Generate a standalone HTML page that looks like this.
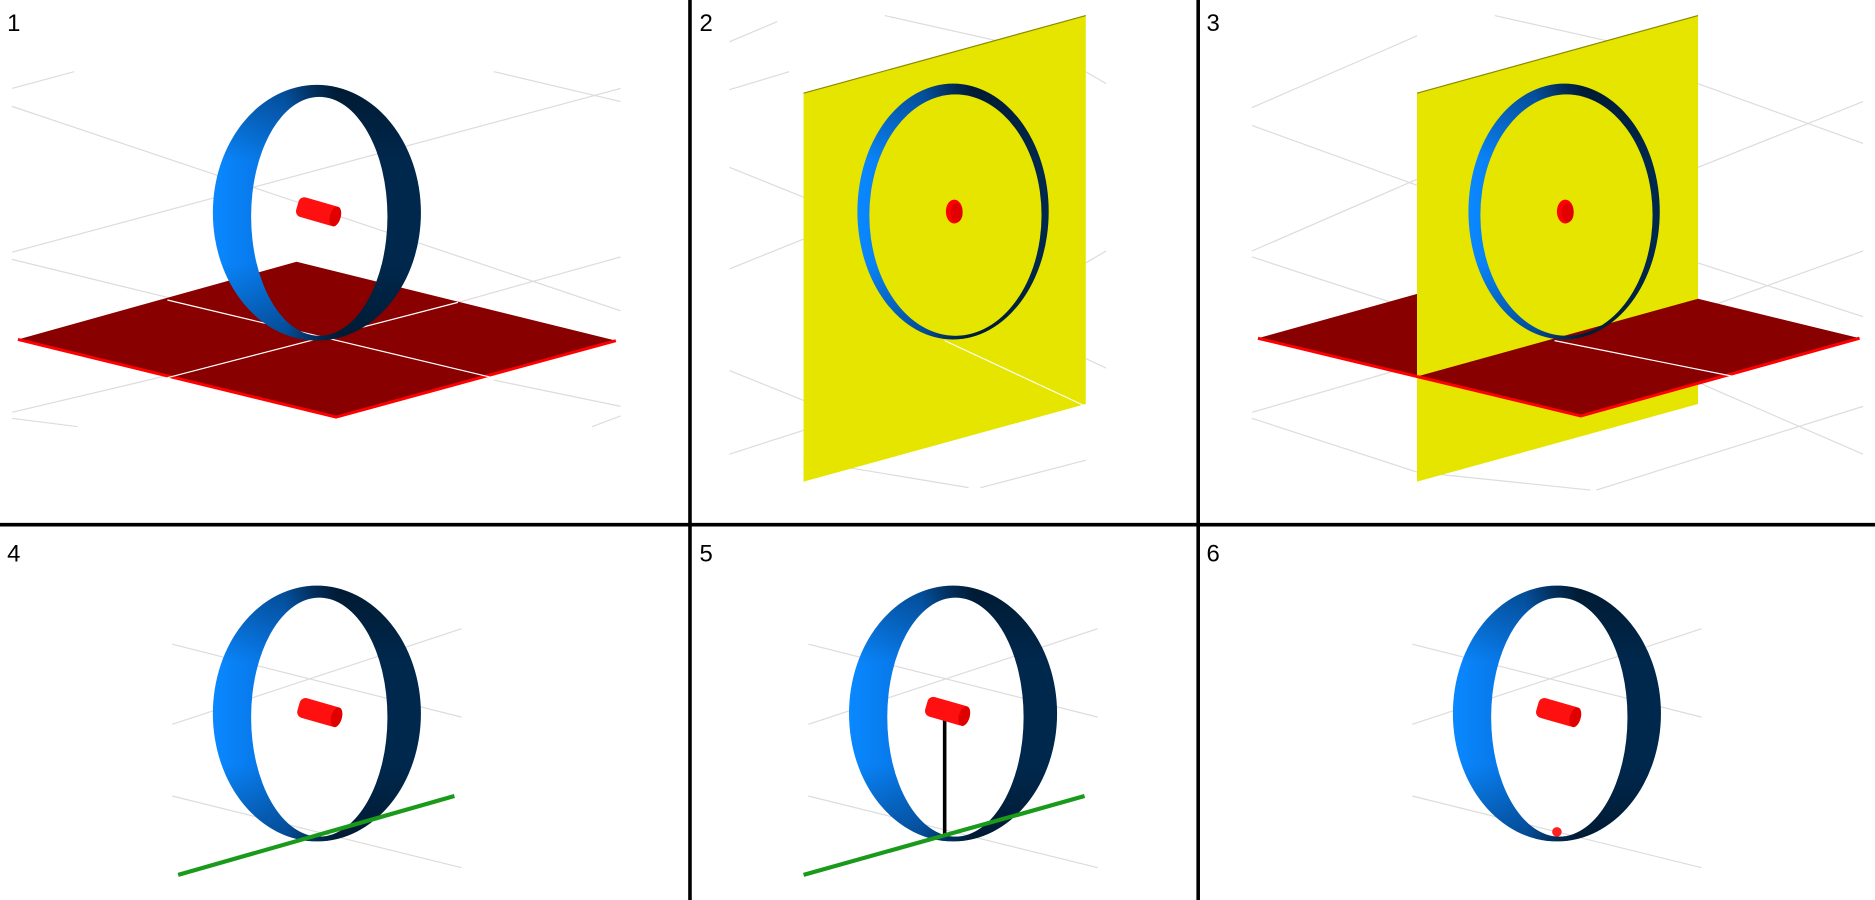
<!DOCTYPE html>
<html><head><meta charset="utf-8"><style>
html,body{margin:0;padding:0;background:#fff;}
svg{display:block;}
text{font-family:"Liberation Sans",sans-serif;}
</style></head><body>
<svg id="s" width="1875" height="900" viewBox="0 0 1568 753" preserveAspectRatio="none" xmlns="http://www.w3.org/2000/svg">
<defs>
<linearGradient id="ringA" x1="0" y1="0" x2="1" y2="0">
<stop offset="0" stop-color="#0a88ff"/><stop offset="0.35" stop-color="#0670dd"/><stop offset="0.5" stop-color="#03407e"/><stop offset="0.6" stop-color="#00284d"/><stop offset="1" stop-color="#00284d"/>
</linearGradient>
<linearGradient id="ringV" x1="0" y1="0" x2="0" y2="1">
<stop offset="0" stop-color="#000" stop-opacity="0.35"/><stop offset="0.3" stop-color="#000" stop-opacity="0"/><stop offset="0.7" stop-color="#000" stop-opacity="0"/><stop offset="1" stop-color="#000" stop-opacity="0.35"/>
</linearGradient>
</defs>
<g id="grid" stroke="#dcdcdc" stroke-width="1" fill="none"></g>
<g id="scene"></g>
<g id="frame" stroke="#000" stroke-width="3">
<line x1="577" y1="0" x2="577" y2="753"/>
<line x1="1002" y1="0" x2="1002" y2="753"/>
<line x1="0" y1="439" x2="1568" y2="439"/>
</g>
</svg>
<script>
const NS='http://www.w3.org/2000/svg';
const panelLabels=['1','2','3','4','5','6'];
const labelPos=[[6,26],[585,26],[1009,26],[6,470],[585,470],[1009,470]];
const svg=document.getElementById('s');
const grid=document.getElementById('grid');
const scene=document.getElementById('scene');
function mk(tag,attrs,parent){const e=document.createElementNS(NS,tag);for(const k in attrs)e.setAttribute(k,attrs[k]);(parent||scene).appendChild(e);return e;}
const gridLines=[
[10,89,519,260],[10,211,519,74],[10,217,145,250],[383,253,519,215],[10,74,62,60],[413,60,519,85],[10,345,145,313],[413,318,519,340],[10,350,65,357],[495,357,519,348],
[610,35,650,18],[740,13,860,40],[610,75,660,60],[610,140,672,165],[610,225,672,200],[610,310,672,335],[610,380,672,360],[672,385,810,408],[820,408,908,385],[908,60,925,70],[908,220,925,210],[908,300,925,308],
[1047,90,1185,30],[1250,13,1370,40],[1047,105,1185,155],[1420,70,1558,120],[1420,140,1558,85],[1047,210,1185,150],[1047,215,1185,260],[1420,220,1558,265],[1420,260,1558,210],[1047,345,1185,305],[1047,350,1185,395],[1185,395,1330,410],[1335,410,1558,340],[1420,320,1558,380],
[144,539,386,600],[144,606,386,526],[144,666,386,726],[676,539,918,600],[676,606,918,526],[676,666,918,726],[1181,539,1423,600],[1181,606,1423,526],[1181,666,1423,726]
];
gridLines.forEach(g=>{const l=mk('line',{x1:g[0],y1:g[1],x2:g[2],y2:g[3]},grid);

});
function floor(pts,name){
 const p=mk('polygon',{points:pts.map(q=>q.join(',')).join(' '),fill:'#880000'});
 
 
 const [A,B,C,D]=pts;
 mk('polyline',{points:`${A[0]},${A[1]} ${D[0]},${D[1]} ${C[0]},${C[1]}`,fill:'none',stroke:'#ff0000','stroke-width':2.5});
}
function plane(pts,name){
 const p=mk('polygon',{points:pts.map(q=>q.join(',')).join(' '),fill:'#e5e500'});
 
 
 mk('line',{x1:pts[0][0],y1:pts[0][1],x2:pts[1][0],y2:pts[1][1],stroke:'#8a8a00','stroke-width':1});
}
function ring(cx,cy,rx,ry,ix,irx,iry,name){
 const d=`M${cx-rx},${cy} a${rx},${ry} 0 1,0 ${2*rx},0 a${rx},${ry} 0 1,0 ${-2*rx},0 Z M${ix-irx},${cy+3} a${irx},${iry} 0 1,1 ${2*irx},0 a${irx},${iry} 0 1,1 ${-2*irx},0 Z`;
 const r=mk('path',{d:d,fill:'url(#ringA)','fill-rule':'evenodd'});
 
 
 mk('path',{d:d,fill:'url(#ringV)','fill-rule':'evenodd'});
}
function cyl(cx,cy,name,endOn){
 const g=mk('g',{transform:`translate(${cx},${cy}) rotate(${endOn?0:16})`});
 
 
 if(endOn){mk('ellipse',{cx:0,cy:0,rx:7,ry:10,fill:'#ff0000'},g);mk('ellipse',{cx:2,cy:1,rx:5,ry:8,fill:'#e00000'},g);}
 else{mk('rect',{x:-18,y:-8.5,width:36,height:17,rx:5,fill:'#ff1010'},g);mk('ellipse',{cx:15,cy:0,rx:4.5,ry:8.5,fill:'#e00000'},g);}
}
// panel 1
floor([[15,284],[248,219],[515,285],[281,349]],'floor-plane-1');
mk('line',{x1:140,y1:251,x2:412,y2:316,stroke:'#fff','stroke-width':1});
mk('line',{x1:140,y1:316,x2:383,y2:253,stroke:'#fff','stroke-width':1});
ring(265,178,87,107,267,57,100,'ring-1');
cyl(266,177,'axle-1',false);
// panel 2
plane([[672,78],[908,13],[908,338],[672,403]],'yellow-plane-2');
mk('line',{x1:790,y1:285,x2:908,y2:340,stroke:'#fff','stroke-width':1});
ring(797,177,80,107,799,72,101,'ring-2');
cyl(798,177,'axle-2',true);
// panel 3
floor([[1052,283],[1285,218],[1555,283],[1322,348]],'floor-plane-3');
plane([[1185,78],[1420,13],[1420,338],[1185,403]],'yellow-plane-3');
mk('polygon',{points:'1185,315 1322,348 1555,283 1420,250',fill:'#880000'});
mk('polyline',{points:'1185,315 1322,348 1555,283',fill:'none',stroke:'#ff0000','stroke-width':2.5});
mk('line',{x1:1300,y1:285,x2:1450,y2:315,stroke:'#fff','stroke-width':1});
ring(1308,177,80,107,1310,72,101,'ring-3');
cyl(1309,177,'axle-3',true);
// panel 4
ring(265,597,87,107,267,57,100,'ring-4');
cyl(267,596,'axle-4',false);
mk('line',{x1:149,y1:732,x2:380,y2:666,stroke:'#1a9a1a','stroke-width':3.5,});
// panel 5
ring(797,597,87,107,799,57,100,'ring-5');
mk('line',{x1:790,y1:597,x2:790,y2:698,stroke:'#000','stroke-width':3,});
cyl(792,595,'axle-5',false);
mk('line',{x1:672,y1:732,x2:907,y2:666,stroke:'#1a9a1a','stroke-width':3.5,});
// panel 6
ring(1302,597,87,107,1304,57,100,'ring-6');
cyl(1303,596,'axle-6',false);
mk('circle',{cx:1302,cy:696,r:4,fill:'#ff2020',});
panelLabels.forEach((t,i)=>{const e=mk('text',{x:labelPos[i][0],y:labelPos[i][1],'font-size':20,fill:'#000'});e.textContent=t;

});
</script>
</body></html>
